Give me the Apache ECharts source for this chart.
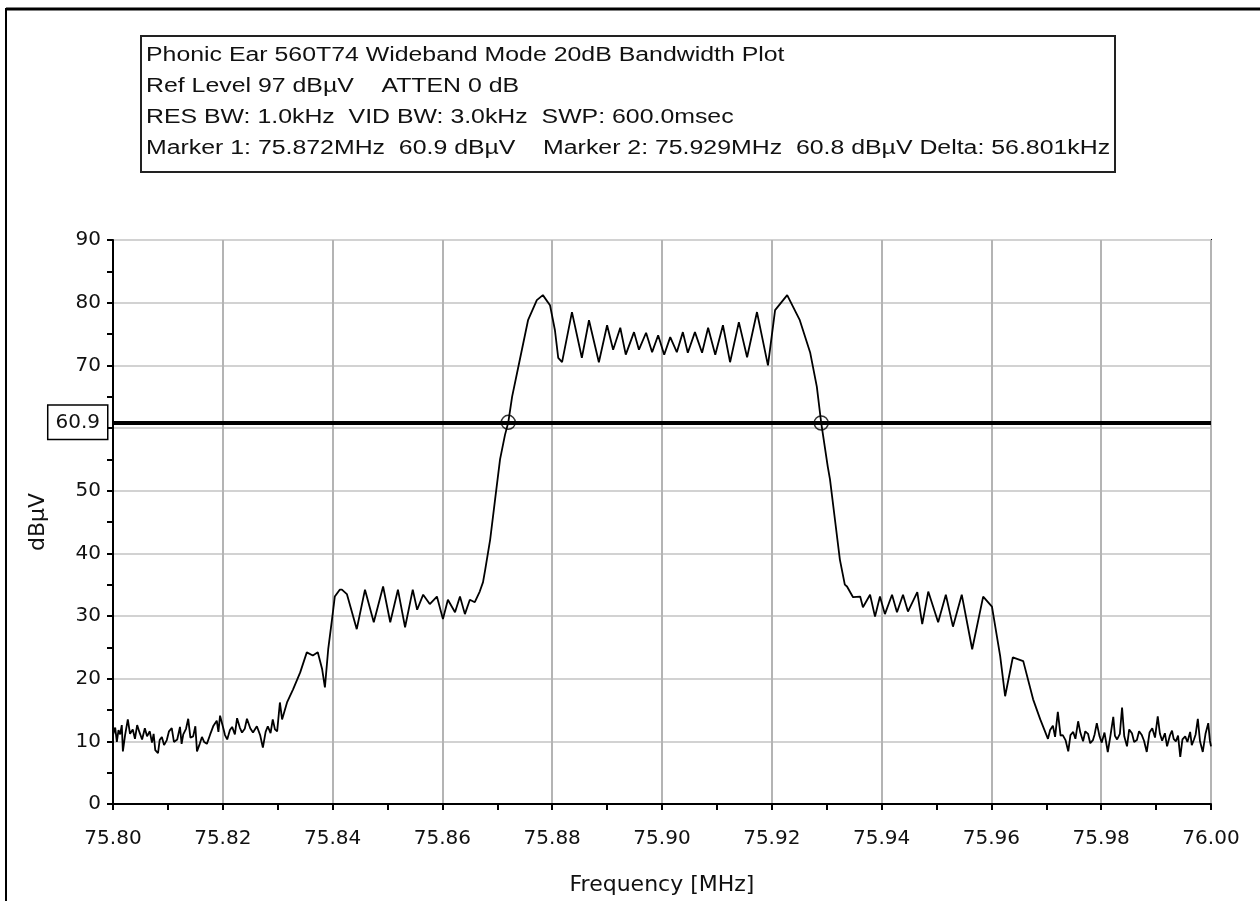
<!DOCTYPE html>
<html>
<head>
<meta charset="utf-8">
<script src="https://cdn.jsdelivr.net/npm/echarts@6/dist/echarts.min.js"></script>
<style>
  html, body { margin: 0; padding: 0; background: #fff; }
  #main { width: 1260px; height: 901px; }
</style>
</head>
<body>
<div id="main"></div>
<script>
// trace vertices, [MHz, dBuV]
const noiseLeft = [
  [75.8000, 11.0], [75.8004, 12.2], [75.8007, 9.9], [75.8010, 11.8], [75.8013, 11.1],
  [75.8016, 12.6], [75.8018, 8.4], [75.8022, 11.0], [75.8027, 13.5], [75.8031, 11.2],
  [75.8036, 11.9], [75.8040, 10.4], [75.8044, 12.6], [75.8048, 11.5], [75.8053, 10.3],
  [75.8058, 12.1], [75.8062, 10.8], [75.8067, 11.6], [75.8071, 9.8], [75.8074, 11.2],
  [75.8077, 8.6], [75.8082, 8.1], [75.8085, 10.2], [75.8089, 10.7], [75.8093, 9.4],
  [75.8098, 10.2], [75.8102, 11.6], [75.8107, 12.1], [75.8111, 9.9], [75.8117, 10.3],
  [75.8122, 12.3], [75.8125, 9.6], [75.8128, 11.1], [75.8133, 12.0], [75.8137, 13.6],
  [75.8141, 10.6], [75.8146, 10.8], [75.8150, 12.4], [75.8153, 8.4], [75.8158, 9.6],
  [75.8162, 10.7], [75.8166, 9.9], [75.8171, 9.6], [75.8177, 11.1], [75.8183, 12.5],
  [75.8189, 13.3], [75.8192, 11.5], [75.8195, 14.1], [75.8200, 12.4], [75.8204, 11.0],
  [75.8208, 10.3], [75.8213, 11.8], [75.8217, 12.3], [75.8222, 11.1], [75.8226, 13.7],
  [75.8231, 12.2], [75.8235, 11.4], [75.8240, 12.0], [75.8244, 13.6], [75.8250, 12.1],
  [75.8255, 11.4], [75.8262, 12.4], [75.8268, 11.0], [75.8273, 9.0], [75.8278, 11.5],
  [75.8282, 12.4], [75.8287, 11.3], [75.8291, 13.5], [75.8295, 11.9], [75.8299, 11.6]
];
const shoulderLeft = [
  [75.8304, 16.2], [75.8308, 13.5], [75.8317, 16.2], [75.8328, 18.3], [75.8341, 21.0],
  [75.8353, 24.2], [75.8364, 23.7], [75.8373, 24.2], [75.8381, 21.5], [75.8386, 18.6],
  [75.8392, 24.7], [75.8399, 29.5], [75.8404, 33.1], [75.8413, 34.2], [75.8417, 34.2],
  [75.8426, 33.5], [75.8444, 27.9], [75.8459, 34.2], [75.8475, 29.0], [75.8492, 34.7],
  [75.8505, 29.0], [75.8519, 34.2], [75.8532, 28.2], [75.8546, 34.2], [75.8554, 31.0],
  [75.8565, 33.4], [75.8577, 31.9], [75.8590, 33.1], [75.8601, 29.5], [75.8610, 32.6],
  [75.8623, 30.6], [75.8632, 33.1], [75.8641, 30.3], [75.8650, 32.6], [75.8659, 32.2],
  [75.8668, 33.9], [75.8674, 35.4]
];
const mainLobe = [
  [75.8678, 37.4], [75.8687, 42.2], [75.8696, 48.6], [75.8705, 55.0], [75.8714, 58.9],
  [75.8720, 60.9], [75.8727, 65.0], [75.8741, 70.9], [75.8756, 77.2], [75.8772, 80.4],
  [75.8783, 81.2], [75.8796, 79.6], [75.8805, 75.6], [75.8811, 71.2], [75.8818, 70.5],
  [75.8836, 78.5], [75.8854, 71.2], [75.8867, 77.2], [75.8885, 70.5], [75.8900, 76.4],
  [75.8911, 72.5], [75.8924, 76.0], [75.8934, 71.7], [75.8949, 75.3], [75.8958, 72.5],
  [75.8971, 75.2], [75.8982, 72.1], [75.8993, 74.8], [75.9004, 71.7], [75.9015, 74.5],
  [75.9027, 72.1], [75.9038, 75.3], [75.9047, 72.0], [75.9060, 75.3], [75.9073, 72.0],
  [75.9084, 76.0], [75.9097, 71.7], [75.9111, 76.4], [75.9124, 70.5], [75.9140, 76.9],
  [75.9155, 71.3], [75.9173, 78.5], [75.9193, 70.0], [75.9206, 78.8], [75.9228, 81.2],
  [75.9251, 77.2], [75.9270, 72.0], [75.9282, 66.6], [75.9290, 60.8], [75.9302, 53.8],
  [75.9306, 51.8], [75.9315, 45.4], [75.9324, 39.0], [75.9333, 35.0]
];
const shoulderRight = [
  [75.9337, 34.7], [75.9348, 33.0], [75.9361, 33.1], [75.9366, 31.4], [75.9379, 33.4],
  [75.9388, 29.9], [75.9397, 33.1], [75.9406, 30.3], [75.9419, 33.4], [75.9428, 30.6],
  [75.9439, 33.4], [75.9448, 30.7], [75.9465, 33.8], [75.9474, 28.7], [75.9485, 33.9],
  [75.9503, 29.0], [75.9517, 33.4], [75.9530, 28.3], [75.9546, 33.4], [75.9565, 24.7],
  [75.9585, 33.1], [75.9601, 31.5], [75.9616, 23.6], [75.9625, 17.2], [75.9639, 23.4],
  [75.9658, 22.8], [75.9676, 16.7], [75.9689, 13.5]
];
const noiseRight = [
  [75.9703, 10.4], [75.9707, 11.8], [75.9712, 12.5], [75.9716, 10.7], [75.9721, 14.7],
  [75.9726, 10.9], [75.9730, 11.0], [75.9735, 10.2], [75.9740, 8.4], [75.9744, 11.0],
  [75.9749, 11.5], [75.9753, 10.4], [75.9758, 13.2], [75.9762, 11.4], [75.9767, 10.0],
  [75.9771, 11.6], [75.9776, 11.2], [75.9780, 9.7], [75.9785, 10.2], [75.9788, 11.1],
  [75.9792, 12.9], [75.9797, 10.8], [75.9801, 9.8], [75.9806, 11.4], [75.9812, 8.3],
  [75.9817, 11.0], [75.9822, 13.9], [75.9825, 10.9], [75.9829, 10.3], [75.9834, 11.2],
  [75.9838, 15.4], [75.9842, 10.8], [75.9847, 9.2], [75.9851, 11.9], [75.9856, 11.3],
  [75.9860, 9.9], [75.9865, 10.2], [75.9869, 11.6], [75.9874, 11.0], [75.9878, 10.1],
  [75.9883, 8.3], [75.9888, 11.4], [75.9893, 12.1], [75.9898, 10.6], [75.9903, 14.0],
  [75.9907, 11.2], [75.9911, 10.1], [75.9916, 11.3], [75.9920, 9.2], [75.9925, 10.9],
  [75.9929, 11.7], [75.9932, 10.4], [75.9936, 10.0], [75.9940, 10.9], [75.9944, 7.5],
  [75.9948, 10.3], [75.9953, 10.8], [75.9957, 9.9], [75.9962, 11.5], [75.9965, 9.4],
  [75.9969, 10.3], [75.9972, 11.1], [75.9976, 13.6], [75.9980, 10.0], [75.9985, 8.3],
  [75.9990, 11.2], [75.9995, 12.9], [75.9998, 10.1], [76.0000, 9.2]
];
const markers = [[75.872, 60.9], [75.929, 60.8]];
const refLine = 60.9;
const headerLines = [
  'Phonic Ear 560T74 Wideband Mode 20dB Bandwidth Plot',
  'Ref Level 97 dB\u00b5V    ATTEN 0 dB',
  'RES BW: 1.0kHz  VID BW: 3.0kHz  SWP: 600.0msec',
  'Marker 1: 75.872MHz  60.9 dB\u00b5V    Marker 2: 75.929MHz  60.8 dB\u00b5V Delta: 56.801kHz'
];

const FONT = '"Liberation Sans", Arial, sans-serif';
const WIDE = '"DejaVu Sans", Verdana, sans-serif';
const chart = echarts.init(document.getElementById('main'));

const trace = [].concat(noiseLeft, shoulderLeft, mainLobe, shoulderRight, noiseRight);

const headerText = headerLines.map((t, i) => ({
  type: 'text',
  left: 146,
  top: 45 + i * 31,
  scaleX: 1.243,
  originX: 146,
  style: { text: t, font: '20px ' + FONT, fill: '#111' }
}));

const option = {
  animation: false,
  backgroundColor: '#fff',
  grid: {
    left: 113, right: 49, top: 240, bottom: 96,
    show: true, borderColor: '#000', borderWidth: 2
  },
  graphic: [
    { type: 'line', shape: { x1: 6, y1: 9, x2: 1260, y2: 9 }, style: { stroke: '#000', lineWidth: 3 } },
    { type: 'line', shape: { x1: 6, y1: 8, x2: 6, y2: 901 }, style: { stroke: '#000', lineWidth: 2 } },
    { type: 'rect', shape: { x: 141, y: 36, width: 974, height: 136 },
      style: { fill: '#fff', stroke: '#222', lineWidth: 2 } }
  ].concat(headerText),
  xAxis: {
    type: 'value',
    min: 75.80, max: 76.00, interval: 0.02,
    name: 'Frequency [MHz]', nameLocation: 'middle', nameGap: 70,
    nameTextStyle: { fontFamily: WIDE, fontSize: 22, color: '#111' },
    axisLine: { lineStyle: { color: '#000', width: 2 } },
    axisTick: { lineStyle: { color: '#000', width: 2 }, length: 6 },
    minorTick: { show: true, splitNumber: 2, length: 6, lineStyle: { color: '#000', width: 2 } },
    axisLabel: {
      fontFamily: WIDE, fontSize: 20, color: '#111', margin: 25,
      formatter: v => v.toFixed(2)
    },
    splitLine: { show: true, lineStyle: { color: '#b4b4b4', width: 2 } }
  },
  yAxis: {
    type: 'value',
    min: 0, max: 90, interval: 10,
    name: 'dB\u00b5V', nameLocation: 'middle', nameGap: 64, nameRotate: 90,
    nameTextStyle: { fontFamily: WIDE, fontSize: 22, color: '#111' },
    axisLine: { show: true, lineStyle: { color: '#000', width: 2 } },
    axisTick: { show: true, lineStyle: { color: '#000', width: 2 }, length: 6 },
    minorTick: { show: true, splitNumber: 2, length: 6, lineStyle: { color: '#000', width: 2 } },
    axisLabel: {
      fontFamily: WIDE, fontSize: 20, color: '#111', margin: 12,
      formatter: v => (v === 60 ? '' : String(v))
    },
    splitLine: { show: true, lineStyle: { color: '#d2d2d2', width: 2 } }
  },
  series: [
    {
      type: 'line',
      data: trace,
      symbol: 'none',
      lineStyle: { color: '#000', width: 1.8 },
      markLine: {
        silent: true,
        symbol: 'none',
        lineStyle: { color: '#000', width: 4, type: 'solid' },
        label: {
          show: true, position: 'start', distance: 6,
          formatter: '60.9',
          fontFamily: WIDE, fontSize: 20, color: '#111',
          backgroundColor: '#fff', borderColor: '#000', borderWidth: 1.5,
          padding: [7, 7, 6, 7]
        },
        data: [{ yAxis: refLine }]
      }
    },
    {
      type: 'scatter',
      data: markers,
      symbol: 'circle',
      symbolSize: 14,
      itemStyle: { color: 'rgba(255,255,255,0)', borderColor: '#000', borderWidth: 1.5 },
      z: 5
    }
  ]
};

chart.setOption(option);
</script>
</body>
</html>
